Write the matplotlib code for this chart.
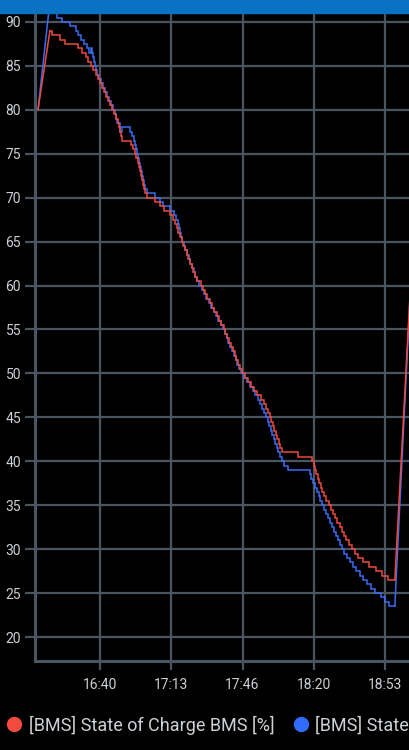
import matplotlib
matplotlib.use('Agg')
import matplotlib.pyplot as plt
from matplotlib.lines import Line2D
from matplotlib.patches import Rectangle

plt.rcParams['font.family'] = ['Roboto', 'DejaVu Sans']

# ---------------------------------------------
# data: minutes after 16:00 and state of charge [%]
# first and last segments are gaps (drawn straight)
# ---------------------------------------------
red_min = [10.9, 16.5, 17.5, 21.2, 23.6, 29.7, 31.5, 33.4, 34.4, 35.8,
           36.7, 38.1, 39.1, 40.0, 40.9, 41.9, 42.8, 43.8, 44.7, 45.6,
           46.6, 47.5, 48.5, 48.9, 49.4, 49.9, 50.3, 54.6, 55.5, 56.4,
           56.9, 57.8, 58.3, 58.8, 59.2, 59.7, 60.2, 60.7, 61.1, 62.1,
           65.8, 68.2, 70.0, 72.9, 74.3, 75.2, 76.2, 76.6, 77.6, 78.5,
           79.0, 79.9, 80.8, 81.3, 82.3, 83.2, 83.7, 84.6, 85.5, 87.0,
           88.0, 89.1, 90.2, 91.3, 92.4, 93.5, 94.5, 95.6, 96.7, 97.8,
           98.7, 99.5, 100.4, 101.2, 102.1, 103.0, 103.8, 104.7, 105.5, 106.6,
           107.8, 109.2, 110.6, 112.0, 113.6, 115.3, 116.9, 117.8, 118.6, 119.4,
           120.2, 120.9, 121.6, 122.3, 123.0, 123.7, 124.4, 125.2, 132.5, 139.3,
           140.0, 140.6, 141.2, 141.9, 142.6, 143.3, 144.0, 144.9, 145.9, 147.0,
           148.0, 149.0, 150.1, 151.1, 152.1, 153.1, 154.1, 155.3, 156.7, 158.1,
           159.5, 160.9, 163.2, 166.0, 169.0, 172.0, 174.7, 178.0, 186.0]
red_val = [80.0, 89.0, 88.5, 88.0, 87.5, 87.0, 86.5, 86.0, 85.5, 85.0,
           84.5, 84.0, 83.5, 83.0, 82.5, 82.0, 81.5, 81.0, 80.5, 80.0,
           79.5, 79.0, 78.5, 78.0, 77.5, 77.0, 76.5, 76.0, 75.5, 75.0,
           74.5, 74.0, 73.5, 73.0, 72.5, 72.0, 71.5, 71.0, 70.5, 70.0,
           69.5, 69.0, 68.5, 68.0, 67.5, 67.0, 66.5, 66.0, 65.5, 65.0,
           64.5, 64.0, 63.5, 63.0, 62.5, 62.0, 61.5, 61.0, 60.5, 60.0,
           59.5, 59.0, 58.5, 58.0, 57.5, 57.0, 56.5, 56.0, 55.5, 55.0,
           54.5, 54.0, 53.5, 53.0, 52.5, 52.0, 51.5, 51.0, 50.5, 50.0,
           49.5, 49.0, 48.5, 48.0, 47.5, 47.0, 46.5, 46.0, 45.5, 45.0,
           44.5, 44.0, 43.5, 43.0, 42.5, 42.0, 41.5, 41.0, 40.5, 40.0,
           39.5, 39.0, 38.5, 38.0, 37.5, 37.0, 36.5, 36.0, 35.5, 35.0,
           34.5, 34.0, 33.5, 33.0, 32.5, 32.0, 31.5, 31.0, 30.5, 30.0,
           29.5, 29.0, 28.5, 28.0, 27.5, 27.0, 26.5, 26.5, 63.0]

blue_min = [10.9, 16.1, 18.9, 19.8, 22.2, 25.9, 28.7, 29.7, 31.1, 32.5,
            33.9, 34.8, 35.8, 36.2, 36.7, 37.2, 37.7, 38.1, 38.6, 39.5,
            40.5, 41.4, 42.3, 43.3, 44.2, 45.2, 46.1, 47.0, 47.5, 48.0,
            48.5, 49.2, 50.3, 54.1, 55.0, 55.7, 56.4, 56.9, 57.4, 57.8,
            58.3, 58.8, 59.2, 59.7, 60.2, 60.7, 61.1, 62.1, 65.8, 68.2,
            69.6, 72.9, 74.7, 75.7, 76.6, 77.1, 77.6, 78.0, 78.5, 79.4,
            79.9, 80.8, 81.8, 82.3, 83.2, 84.1, 84.6, 85.5, 86.5, 87.6,
            88.7, 89.8, 90.9, 92.0, 93.1, 94.2, 95.3, 96.4, 97.5, 98.4,
            99.2, 100.1, 100.9, 101.8, 102.6, 103.5, 104.3, 105.1, 105.8, 107.2,
            108.6, 110.0, 111.5, 112.6, 113.8, 115.0, 116.0, 116.8, 117.6, 118.4,
            119.1, 119.8, 120.5, 121.2, 121.9, 122.6, 123.3, 124.1, 125.0, 126.0,
            127.8, 138.2, 138.8, 139.5, 140.6, 141.6, 142.4, 143.1, 143.8, 144.6,
            145.6, 146.6, 147.5, 148.5, 149.4, 150.4, 151.3, 152.3, 153.2, 154.2,
            155.5, 156.9, 158.3, 159.8, 161.5, 163.0, 164.8, 166.8, 168.8, 171.5,
            173.5, 175.2, 178.0, 186.0]
blue_val = [80.0, 91.5, 91.0, 90.5, 90.0, 89.5, 89.0, 88.5, 88.0, 87.5,
            87.0, 86.5, 87.0, 86.5, 86.0, 85.5, 85.0, 84.5, 84.0, 83.5,
            83.0, 82.5, 82.0, 81.5, 81.0, 80.5, 80.0, 79.5, 79.0, 78.5,
            78.5, 77.5, 78.0, 77.5, 77.0, 76.5, 76.0, 75.5, 75.0, 74.5,
            74.0, 73.5, 73.0, 72.5, 72.0, 71.5, 71.0, 70.5, 70.0, 69.5,
            69.0, 68.5, 68.0, 67.5, 67.0, 66.5, 66.0, 65.5, 65.0, 64.5,
            64.0, 63.5, 63.0, 62.5, 62.0, 61.5, 61.0, 60.5, 60.0, 59.5,
            59.0, 58.5, 58.0, 57.5, 57.0, 56.5, 56.0, 55.5, 55.0, 54.5,
            54.0, 53.5, 53.0, 52.5, 52.0, 51.5, 51.0, 50.5, 50.0, 49.5,
            49.0, 48.5, 48.0, 47.5, 47.0, 46.5, 46.0, 45.5, 45.0, 44.5,
            44.0, 43.5, 43.0, 42.5, 42.0, 41.5, 41.0, 40.5, 40.0, 39.5,
            39.0, 38.5, 38.0, 37.5, 37.0, 36.5, 36.0, 35.5, 35.0, 34.5,
            34.0, 33.5, 33.0, 32.5, 32.0, 31.5, 31.0, 30.5, 30.0, 29.5,
            29.0, 28.5, 28.0, 27.5, 27.0, 26.5, 26.0, 25.5, 25.0, 24.5,
            24.0, 23.5, 23.5, 63.0]

x_ticks = [40, 73.33, 106.67, 140, 173.33]
x_labels = ['16:40', '17:13', '17:46', '18:20', '18:53']
y_ticks = [20, 25, 30, 35, 40, 45, 50, 55, 60, 65, 70, 75, 80, 85, 90]
names = ['[BMS] State of Charge BMS [%]', '[BMS] State of Charge Cells [%]']

RED = '#ec4a3c'
BLUE = '#3a6cf4'
GRID = '#4a5562'
TXT = '#cdd0d4'


def draw(ax, t, v, color, z):
    """ step line, with straight segments over the gaps at both ends """
    kw = dict(color=color, lw=1.1, zorder=z, solid_joinstyle='miter')
    ax.plot(t[:2], v[:2], **kw)
    ax.plot(t[1:-1], v[1:-1], drawstyle='steps-post', **kw)
    ax.plot(t[-2:], v[-2:], **kw)


fig = plt.figure(figsize=(4.1, 7.5), dpi=100, facecolor='black')
ax = fig.add_axes([35 / 410, 89 / 750, 375 / 410, 648 / 750])
ax.set_facecolor('black')

draw(ax, blue_min, blue_val, BLUE, 3)
draw(ax, red_min, red_val, RED, 4)

ax.set_xlim(9.5, 185.1)
ax.set_ylim(17.27, 91.02)
ax.set_xticks(x_ticks)
ax.set_xticklabels(x_labels)
ax.set_yticks(y_ticks)

ax.grid(True, color=GRID, lw=1.6, zorder=1)
ax.set_axisbelow(True)
for s in ['top', 'right']:
    ax.spines[s].set_visible(False)
for s in ['left', 'bottom']:
    ax.spines[s].set_color(GRID)
    ax.spines[s].set_linewidth(2.2)
ax.tick_params(axis='both', colors=GRID, width=1.6, labelcolor=TXT,
               labelsize=10)
ax.tick_params(axis='y', length=7, pad=3)
ax.tick_params(axis='x', length=6.5, pad=6)

# header bar at the top of the card
fig.add_artist(Rectangle((0, 1 - 13 / 750), 1, 13 / 750,
                         transform=fig.transFigure, color='#0a72c2',
                         zorder=10))

handles = [Line2D([], [], marker='o', ls='', ms=10, color=c)
           for c in ['#f24a3e', '#2f6cff']]
fig.legend(handles, names, loc='center left',
           bbox_to_anchor=(0.0, 1 - 725 / 750), ncol=2, frameon=False,
           fontsize=13, labelcolor=TXT, handlelength=0.8,
           handletextpad=0.4, columnspacing=1.05, borderaxespad=0)

fig.savefig('out.png', facecolor='black')
